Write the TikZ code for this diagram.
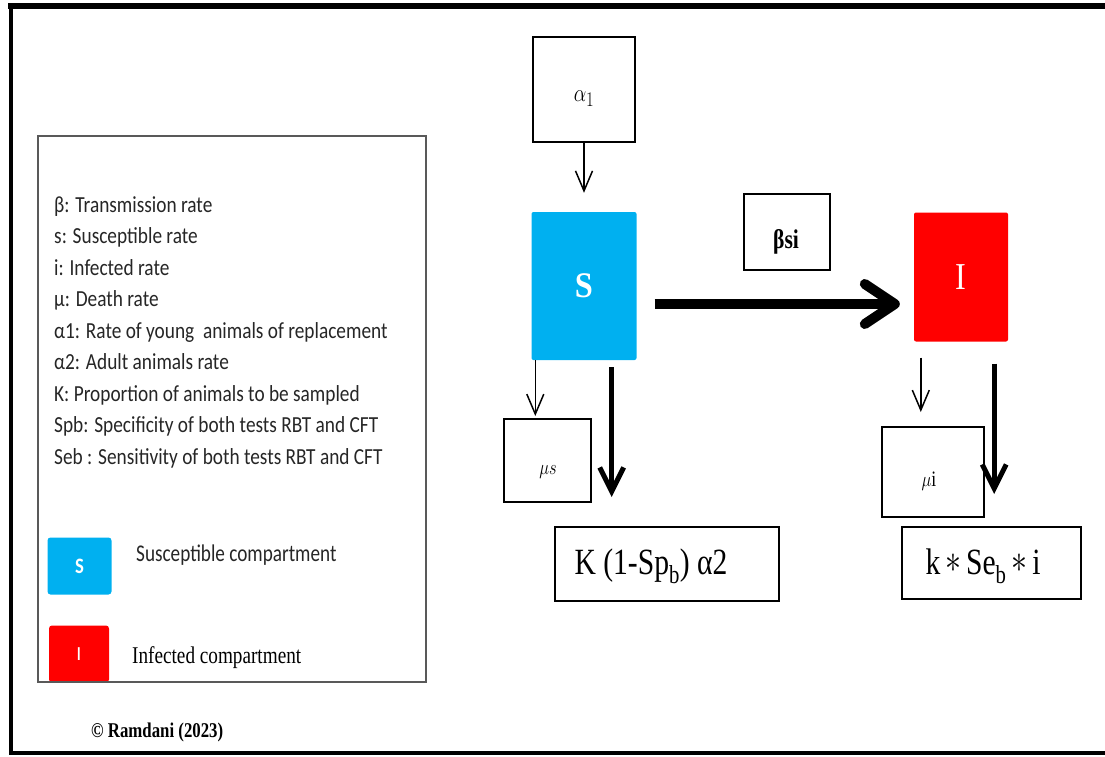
\documentclass[tikz,border=0pt]{standalone}
\usepackage{graphicx}
\usepackage{fontspec}
\setmainfont{Liberation Serif}
\newfontfamily\calib{Carlito}
\usetikzlibrary{arrows.meta}
\definecolor{scyan}{HTML}{00B0F0}
\definecolor{ired}{HTML}{FF0000}
\definecolor{legtext}{HTML}{262626}
% narrow set text
\newcommand\sqz[2][0.8]{\scalebox{#1}[1]{#2}}
\newcommand\fs[1]{\fontsize{#1}{#1}\selectfont}
\newcommand\bigast{\,\raisebox{0.05em}{\scalebox{1.6}{$\ast$}}\,}
\begin{document}
\begin{tikzpicture}[x=1pt,y=-1pt,
  box/.style={draw=black,line width=2pt,inner sep=0pt,fill=white},
  comp/.style={inner sep=0pt,rounded corners=2pt,text=white},
  txt/.style={inner sep=0pt},
  legline/.style={anchor=base west,inner sep=0pt,text=legtext,font=\calib\fs{23}},
  swatch/.style={inner sep=0pt,rounded corners=3pt,text=white,
    minimum width=64pt,minimum height=57pt,font=\calib\bfseries\fs{22}},
  thinarrow/.style={line width=1.5pt,-{Straight Barb[length=20pt,width=17pt]}},
  thickarrow/.style={line width=5pt,-{Straight Barb[length=24pt,width=24pt]}},
  bigarrow/.style={line width=10pt,-{Straight Barb[length=30pt,width=40pt,round]}}]
\useasboundingbox (0,0) rectangle (1105,757);

% outer frame (top, left, bottom)
\draw[line width=6pt] (8,6) -- (1105,6);
\draw[line width=4pt] (11,4) -- (11,755);
\draw[line width=3.5pt] (9,753) -- (1105,753);

% legend
\node[legline] (l1) at (54,212) {\sqz[0.84]{β: Transmission rate}};
\node[legline] (l2) at (54,243.5) {\sqz[0.84]{s: Susceptible rate}};
\node[legline] (l3) at (54,275) {\sqz[0.84]{i: Infected rate}};
\node[legline] (l4) at (54,306.5) {\sqz[0.84]{µ: Death rate}};
\node[legline] (l5) at (54,338) {\sqz[0.84]{α1: Rate of young\ \ animals of replacement}};
\node[legline] (l6) at (54,369.5) {\sqz[0.84]{α2: Adult animals rate}};
\node[legline] (l7) at (54,401) {\sqz[0.84]{K: Proportion of animals to be sampled}};
\node[legline] (l8) at (54,432.5) {\sqz[0.84]{Spb: Specificity of both tests RBT and CFT}};
\node[legline] (l9) at (54,464) {\sqz[0.84]{Seb : Sensitivity of both tests RBT and CFT}};

\node[swatch,fill=scyan] (legS) at (79.5,566) {\sqz[0.85]{S}};
\node[swatch,fill=ired,minimum width=60pt] (legI) at (79,654) {\mdseries\fs{20}I};
\node[anchor=base west,inner sep=0pt,text=legtext,font=\calib\fs{24}] (legStxt) at (136,561) {\sqz{Susceptible compartment}};
\node[anchor=base west,inner sep=0pt,text=black,font=\fs{24}] (legItxt) at (132,663) {\sqz{Infected compartment}};
\draw[draw=black!65,line width=1.5pt] (38,136) rectangle (426,682);

\node[anchor=base west,inner sep=0pt,font=\bfseries\fs{21}] (copy) at (91,737) {\sqz{© Ramdani (2023)}};

% compartments and rate boxes
\node[box,minimum width=102pt,minimum height=105pt] (alpha) at (584,89.5) {};
\node[comp,fill=scyan,minimum width=105pt,minimum height=148pt,font=\bfseries\fs{36}] (S) at (584,286) {\sqz[0.9]{S}};
\node[box,minimum width=86pt,minimum height=76pt] (beta) at (787,232) {};
\node[comp,fill=ired,minimum width=94pt,minimum height=129pt,font=\fs{38}] (I) at (961,277) {\sqz[0.85]{I}};
\node[box,minimum width=87pt,minimum height=83pt] (mus) at (547,460.5) {};
\node[box,minimum width=224pt,minimum height=74pt] (K) at (667,564) {};
\node[box,minimum width=102pt,minimum height=90pt] (mui) at (933,472) {};
\node[box,minimum width=179pt,minimum height=72pt] (k) at (991,563) {};

% rate labels
\node[txt,font=\fs{28}] (alphatxt) at (584,99) {\sqz{$\alpha_1$}};
\node[txt,font=\bfseries\fs{27}] (betatxt) at (786,242) {\sqz{βsi}};
\node[txt,font=\fs{22}] (mustxt) at (548,472) {\sqz{$\mu s$}};
\node[txt,font=\fs{22}] (muitxt) at (929,481) {\sqz{$\mu$i}};
\node[txt,font=\fs{37}] (Ktxt) at (651,566) {\sqz{K (1-Sp\textsubscript{b}) α2}};
\node[txt,font=\fs{37}] (ktxt) at (983,566) {\sqz{k\bigast Se\textsubscript{b}\bigast i}};

% flows
\coordinate (hy) at (0,304);
\draw[thinarrow,shorten >=19pt] (alpha) -- (S);
\draw[bigarrow,shorten <=18pt,shorten >=14pt] (S.east |- hy) -- (I.west |- hy);
\draw[thinarrow,shorten >=2pt] ([xshift=4pt]S.south west) -- ([xshift=4pt]S.south west |- mus.north);
\draw[thickarrow,shorten <=7pt,shorten >=29pt] ([xshift=-25pt]S.south east) -- ([xshift=-25pt]S.south east |- K.north);
\draw[thinarrow,shorten <=16pt,shorten >=14pt] ([xshift=7pt]I.south west) -- ([xshift=7pt]I.south west |- mui.north);
\draw[thickarrow,shorten <=22pt,shorten >=32pt] ([xshift=-14pt]I.south east) -- ([xshift=-14pt]I.south east |- k.north);
\end{tikzpicture}
\end{document}
